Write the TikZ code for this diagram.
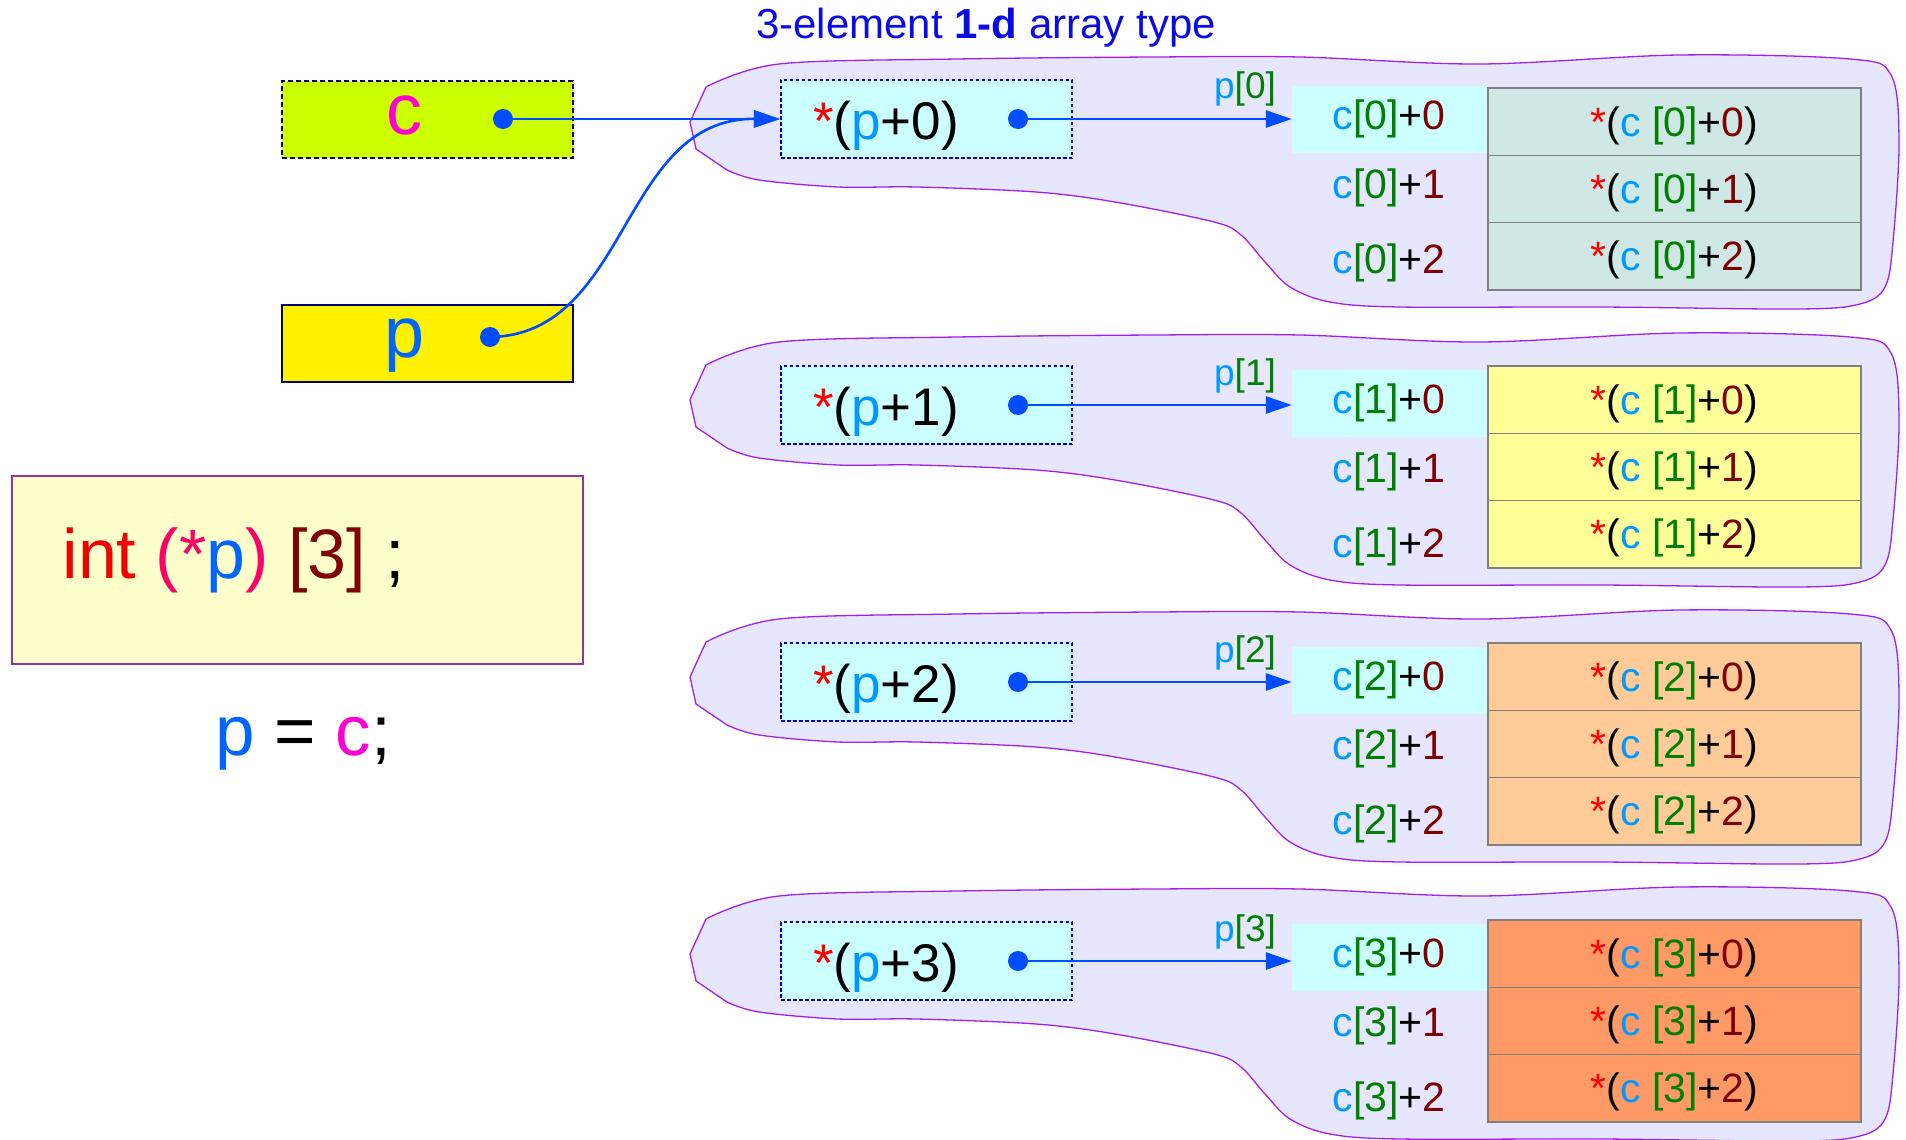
\documentclass[tikz,border=0pt]{standalone}
\usepackage{fontspec}
\setmainfont{Liberation Sans}
\usetikzlibrary{arrows.meta}
\definecolor{ptrblue}{RGB}{0,76,255}
\definecolor{titleblue}{RGB}{10,10,230}
\definecolor{boxblue}{RGB}{0,0,190}
\definecolor{navy}{RGB}{0,0,128}
\definecolor{lblue}{RGB}{0,153,255}
\definecolor{pblue}{RGB}{0,102,255}
\definecolor{dgreen}{RGB}{0,128,0}
\definecolor{dred}{RGB}{128,0,0}
\definecolor{cmag}{RGB}{255,0,210}
\definecolor{parpink}{RGB}{255,0,102}
\definecolor{intred}{RGB}{240,0,0}
\definecolor{lime}{RGB}{204,255,0}
\definecolor{declfill}{RGB}{255,255,204}
\definecolor{declline}{RGB}{153,51,153}
\definecolor{blobfill}{RGB}{230,230,255}
\definecolor{blobline}{RGB}{160,32,240}
\definecolor{addrcyan}{RGB}{204,255,255}
\definecolor{cellline}{RGB}{128,128,128}
\definecolor{valA}{RGB}{207,231,229}
\definecolor{valB}{RGB}{255,255,153}
\definecolor{valC}{RGB}{255,204,153}
\definecolor{valD}{RGB}{255,153,102}
\newcommand{\fsz}[1]{\fontsize{#1}{#1}\selectfont}
\newcommand{\pderef}[1]{\textcolor{red}{*}(\textcolor{lblue}{p}+#1)}
\newcommand{\pidx}[1]{\textcolor{lblue}{p}\textcolor{dgreen}{[#1]}}
\newcommand{\cidx}[2]{\textcolor{lblue}{c}\textcolor{dgreen}{[#1]}+\textcolor{dred}{#2}}
\newcommand{\cval}[2]{\textcolor{red}{*}(\textcolor{lblue}{c} \textcolor{dgreen}{[#1]}+\textcolor{dred}{#2})}
\tikzset{
  blob/.style={draw=blobline, fill=blobfill, line width=1.3pt},
  ptrbox/.style={draw=boxblue, fill=addrcyan, dash pattern=on 3.5pt off 2.5pt, line width=2.2pt, minimum width=291pt, minimum height=78pt, inner sep=0pt},
  addrcell/.style={fill=addrcyan, minimum width=196pt, minimum height=67pt, inner sep=0pt},
  valcell/.style={draw=cellline, line width=1.5pt, minimum width=373pt, minimum height=67.3pt, inner sep=0pt, text height=38pt, text depth=9pt, font=\fsz{41}},
  dot/.style={circle, fill=ptrblue, minimum size=20pt, inner sep=0pt},
  ptrarrow/.style={->, draw=ptrblue, line width=2.6pt},
}
\begin{document}
\begin{tikzpicture}[>={Triangle[length=26pt,width=17pt]}, x=1pt, y=-1pt]
\useasboundingbox (0,0) rectangle (1906,1140);
%%
\node (title) at (986,28) [text=titleblue, font=\fsz{42}] {3-element \textbf{1-d} array type};
% variables c and p
\node (cbox) at (427.5,119.5) [draw=navy, fill=lime, dash pattern=on 5pt off 3pt, line width=2.4pt, minimum width=291pt, minimum height=77pt] {};
\node (cname) at (404,134) [anchor=base, text=cmag, font=\fsz{72}] {c};
\node (cdot) at (503,119) [dot] {};
\node (pbox) at (427.5,343.5) [draw=navy, fill=yellow, line width=2.2pt, minimum width=291pt, minimum height=77pt] {};
\node (pname) at (405,357) [anchor=base, text=pblue, font=\fsz{72}] {p};
\node (pdot) at (490,337) [dot] {};
% declaration
\node (decl) at (297.5,570) [draw=declline, fill=declfill, line width=1.5pt, minimum width=571pt, minimum height=188pt] {};
\node (decltxt) at (59,578) [anchor=base west, font=\fsz{70}] {\textcolor{intred}{int} \textcolor{parpink}{(*}\textcolor{pblue}{p}\textcolor{parpink}{)} \textcolor{dred}{[3]} ;};
\node (assign) at (303,755) [anchor=base, font=\fsz{71}] {\textcolor{pblue}{p} = \textcolor{cmag}{c};};
% the four rows of c
\foreach \g/\T/\B/\S/\vfill in {0/88/119/-6/valA, 1/366/405/0/valB, 2/643/682/0/valC, 3/920/961/0/valD} {
  \begin{scope}[shift={(0,\T)}]
    \draw[blob] (727,82) -- (696,61) -- (690,34) -- (706,-1)
      -- plot[smooth, tension=0.55] coordinates {
      (706,-1) (779,-24) (957,-29) (1154,-31) (1300,-31) (1480,-24)
      (1679,-33) (1850,-29) (1891,-13) (1899,54) (1893,154) (1885,199) (1860,216)
      (1799,221) (1600,219) (1400,219) (1330,214) (1290,199) (1265,174) (1241,147)
      (1214,134) (1115,114) (1036,104) (917,99) (838,99) (759,92) (727,82)} -- cycle;
  \end{scope}
  \node (ptr\g) at (926.5,\B) [ptrbox] {};
  \node (ptrtxt\g) at (886,\B+20) [anchor=base, font=\fsz{53}] {\pderef{\g}};
  \node (pdot\g) at (1018,\B) [dot] {};
  \node (addr\g) at (1390,\T+37.5+\S) [addrcell] {};
  \foreach \r/\ly in {0/47, 1/116, 2/191} {
    \node (cell\g\r) at (1674.5,\T+33.65+67.3*\r) [valcell, fill=\vfill] {\cval{\g}{\r}};
    \node (lbl\g\r) at (1389,\T+\ly+\S) [anchor=base, font=\fsz{41}] {\cidx{\g}{\r}};
  }
  \draw[ptrarrow] (pdot\g.center) -- (pdot\g -| addr\g.west);
  \node (pidx\g) at (1245,\B-20) [anchor=base, font=\fsz{37}] {\pidx{\g}};
}
% pointers into the first row
\draw[ptrarrow] (cdot.center) -- (ptr0.west);
\draw[ptrarrow] (pdot.center) .. controls (630,335) and (620,118) .. (ptr0.west);
%
\end{tikzpicture}
\end{document}
